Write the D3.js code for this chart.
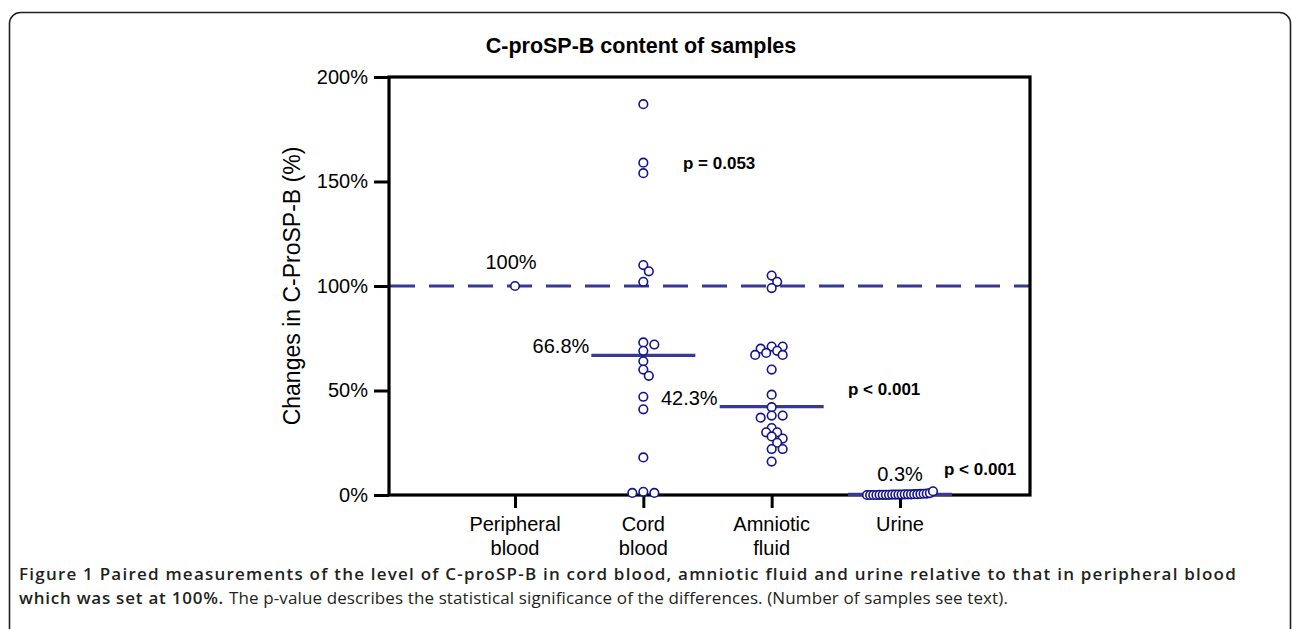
<!DOCTYPE html>
<html lang="en">
<head>
<meta charset="UTF-8">
<title>C-proSP-B content of samples</title>
<script src="https://d3js.org/d3.v7.min.js"></script>
<style>
    body { margin: 0; background: #fff; }
    svg text { font-family: "Liberation Sans", Arial, sans-serif; fill: #000; }
    .caption { font-family: "Open Sans", sans-serif !important; fill: #231f20 !important; }
</style>
</head>
<body>
<div id="chart"></div>
<script>
    // ---- data ----
    var categories = ["Peripheral blood", "Cord blood", "Amniotic fluid", "Urine"];
    var categoryLines = [["Peripheral", "blood"], ["Cord", "blood"], ["Amniotic", "fluid"], ["Urine"]];
    var yTicks = [0, 50, 100, 150, 200];

    var peripheralValues = [100];
    var cordValues = [187, 159, 154, 110, 107, 102, 73, 72, 69, 64, 60, 57, 47, 41, 18, 1.5, 1, 1];
    var amnioticValues = [105, 102, 99, 71, 71, 70, 69, 68, 67, 67, 60, 48, 42, 38, 38, 37,
                          32, 30, 30, 28, 27, 25, 22, 22, 16];
    var urineValues = [0, 0, 0, 0, 0.1, 0.1, 0.1, 0.1, 0.2, 0.2, 0.2, 0.2, 0.3, 0.3, 0.3,
                       0.4, 0.4, 0.5, 0.6, 0.7, 0.9, 1.8];

    var medians = [100, 66.8, 42.3, 0.3];
    var medianLabels = ["100%", "66.8%", "42.3%", "0.3%"];
    var pLabels = [null, "p = 0.053", "p < 0.001", "p < 0.001"];
    var reference = 100;

    var blue = "#383896", dotBlue = "#14148c";

    var W = 1292, H = 629;
    var svg = d3.select("#chart").append("svg")
        .attr("width", W).attr("height", H);

    // outer figure frame (rounded box)
    svg.append("rect")
        .attr("x", 9.5).attr("y", 12.5)
        .attr("width", 1281).attr("height", 700)
        .attr("rx", 11)
        .attr("fill", "none").attr("stroke", "#231f20").attr("stroke-width", 1.6);

    // scales
    var x = d3.scalePoint().domain(categories).range([515, 900]);
    var y = d3.scaleLinear().domain([0, 200]).range([495, 77]);
    var plotLeft = 389, plotRight = 1030;

    // title
    svg.append("text")
        .attr("x", 641).attr("y", 53)
        .attr("text-anchor", "middle")
        .style("font-size", "21.5px").style("font-weight", "bold")
        .text("C-proSP-B content of samples");

    // y axis title
    svg.append("text")
        .attr("transform", "translate(300," + y(100) + ") rotate(-90)")
        .attr("text-anchor", "middle")
        .style("font-size", "23px")
        .text("Changes in C-ProSP-B (%)");

    // dashed reference line
    svg.append("line")
        .attr("x1", plotLeft + 1).attr("x2", plotRight)
        .attr("y1", y(reference)).attr("y2", y(reference))
        .attr("stroke", blue).attr("stroke-width", 3)
        .attr("stroke-dasharray", "25,14");

    // y axis
    var yAxis = svg.append("g")
        .attr("transform", "translate(" + plotLeft + ",0)")
        .call(d3.axisLeft(y).tickValues(yTicks).tickFormat(function(d) { return d + "%"; })
            .tickSize(15).tickPadding(6));
    yAxis.select(".domain").remove();
    yAxis.selectAll("line").attr("stroke", "#000").attr("stroke-width", 3);
    yAxis.selectAll("text").style("font-size", "20px").attr("fill", "#000");

    // x axis
    var xAxis = svg.append("g")
        .attr("transform", "translate(0," + y(0) + ")")
        .call(d3.axisBottom(x).tickSize(13).tickFormat(""));
    xAxis.select(".domain").remove();
    xAxis.selectAll("line").attr("stroke", "#000").attr("stroke-width", 3);

    categories.forEach(function(c, i) {
        var t = svg.append("text")
            .attr("x", x(c)).attr("y", 531)
            .attr("text-anchor", "middle")
            .style("font-size", "20px");
        categoryLines[i].forEach(function(line, j) {
            t.append("tspan").attr("x", x(c)).attr("dy", j === 0 ? 0 : 24).text(line);
        });
    });

    // plot frame (left, top, right, bottom)
    svg.append("rect")
        .attr("x", plotLeft).attr("y", y(200))
        .attr("width", plotRight - plotLeft).attr("height", y(0) - y(200))
        .attr("fill", "none").attr("stroke", "#000").attr("stroke-width", 3.2);

    // median lines
    var medianHalf = 52;
    categories.forEach(function(c, i) {
        if (i === 0) return;
        svg.append("line")
            .attr("x1", x(c) - medianHalf).attr("x2", x(c) + medianHalf)
            .attr("y1", y(medians[i])).attr("y2", y(medians[i]))
            .attr("stroke", blue).attr("stroke-width", 3.2);
    });

    // simple beeswarm offsets so dots do not overlap too much
    function swarm(values, step, minDist) {
        var placed = [];
        values.forEach(function(v) {
            var py = y(v);
            for (var k = 0; k < 40; k++) {
                var off = (k === 0) ? 0 : (k % 2 === 1 ? 1 : -1) * Math.ceil(k / 2) * step;
                var ok = placed.every(function(p) {
                    var dx = p.dx - off, dy = p.py - py;
                    return Math.sqrt(dx * dx + dy * dy) >= minDist;
                });
                if (ok) { placed.push({ v: v, py: py, dx: off }); return; }
            }
            placed.push({ v: v, py: py, dx: 0 });
        });
        return placed;
    }

    function drawDots(cat, pts) {
        svg.append("g").selectAll("circle")
            .data(pts).enter().append("circle")
            .attr("cx", function(d) { return x(cat) + d.dx; })
            .attr("cy", function(d) { return d.py; })
            .attr("r", 4.3)
            .attr("fill", "#fff").attr("stroke", dotBlue).attr("stroke-width", 1.6);
    }

    drawDots(categories[0], swarm(peripheralValues, 5.5, 6.8));
    drawDots(categories[1], swarm(cordValues, 5.5, 6.8));
    drawDots(categories[2], swarm(amnioticValues, 5.5, 6.8));
    // urine samples are packed side by side along zero
    var urineSpread = 66;
    drawDots(categories[3], urineValues.map(function(v, i) {
        return { v: v, py: y(v), dx: -urineSpread / 2 + i * urineSpread / (urineValues.length - 1) };
    }));

    // median value labels
    svg.append("text").attr("x", x(categories[0]) - 4).attr("y", y(medians[0]) - 17)
        .attr("text-anchor", "middle").style("font-size", "20px").text(medianLabels[0]);
    svg.append("text").attr("x", x(categories[1]) - 54).attr("y", y(medians[1]) - 2)
        .attr("text-anchor", "end").style("font-size", "20px").text(medianLabels[1]);
    svg.append("text").attr("x", x(categories[2]) - 54).attr("y", y(medians[2]) - 2)
        .attr("text-anchor", "end").style("font-size", "20px").text(medianLabels[2]);
    svg.append("text").attr("x", x(categories[3])).attr("y", y(medians[3]) - 13)
        .attr("text-anchor", "middle").style("font-size", "20px").text(medianLabels[3]);

    // p-values
    var pPos = [null, [683, 169], [848, 395], [944, 475]];
    pLabels.forEach(function(p, i) {
        if (!p) return;
        svg.append("text").attr("x", pPos[i][0]).attr("y", pPos[i][1])
            .style("font-size", "17px").style("font-weight", "bold").text(p);
    });

    // figure caption, letter-spaced to the printed line widths
    var capSize = 17;
    function fitSpacing(sel, target) {
        var str = sel.text();
        var w = sel.node().getComputedTextLength();
        sel.style("letter-spacing", ((target - w) / str.length) + "px");
    }
    var cap1 = svg.append("text").attr("class", "caption").attr("x", 19).attr("y", 580)
        .style("font-size", capSize + "px").style("font-weight", 600)
        .text("Figure 1 Paired measurements of the level of C-proSP-B in cord blood, amniotic fluid and urine relative to that in peripheral blood");
    fitSpacing(cap1, 1218);

    var cap2b = svg.append("text").attr("class", "caption").attr("x", 19).attr("y", 604)
        .style("font-size", capSize + "px").style("font-weight", 600)
        .text("which was set at 100%.");
    fitSpacing(cap2b, 205);
    var cap2r = svg.append("text").attr("class", "caption").attr("x", 229).attr("y", 604)
        .style("font-size", capSize + "px")
        .text("The p-value describes the statistical significance of the differences. (Number of samples see text).");
    fitSpacing(cap2r, 779);
</script>
</body>
</html>
